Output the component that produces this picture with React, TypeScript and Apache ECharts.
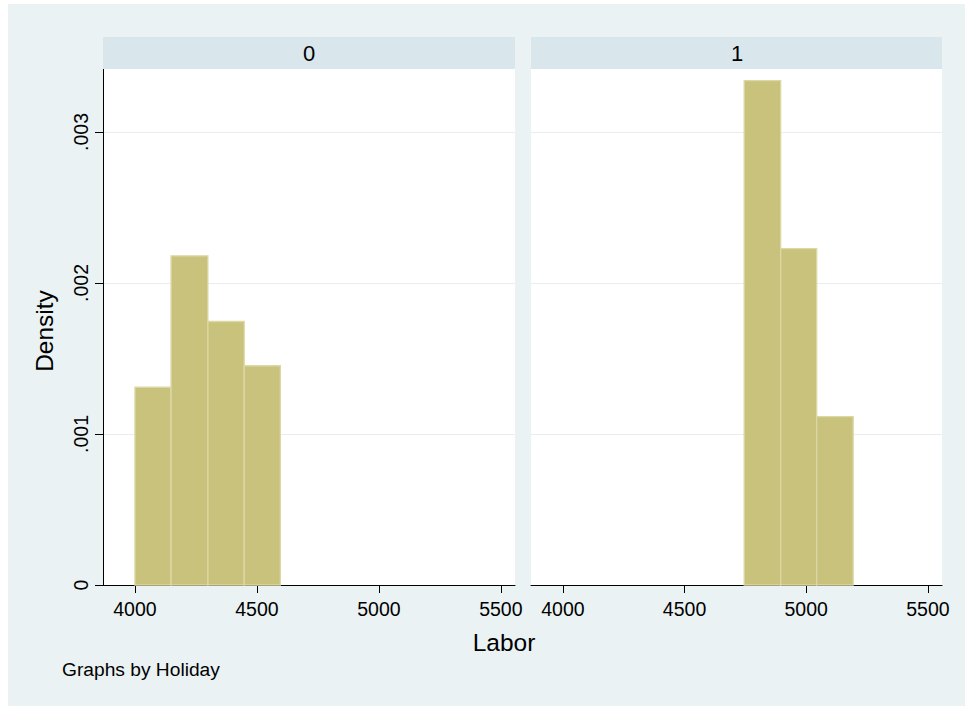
import React, { useEffect, useRef } from "react";
import * as echarts from "echarts";

// Holiday = 0 panel: bin edges and densities
const edges0 = [4000, 4148, 4299, 4448, 4596];
const dens0 = [0.00131, 0.00218, 0.001745, 0.001452];
// Holiday = 1 panel
const edges1 = [4745, 4895, 5043, 5193];
const dens1 = [0.00334, 0.002228, 0.001115];

const panelLabels = ["0", "1"];
const xTicks = [4000, 4500, 5000, 5500];
const yTicks = [0, 0.001, 0.002, 0.003];
const xMin = 3869;
const xMax = 5558;
const yMax = 0.003417;

const FONT = '"Liberation Sans", Arial, Helvetica, sans-serif';
const BAR_FILL = "#c8c27d";
const BAR_EDGE = "#dcd8a4";
const GRID_LINE = "#e6eef1";

function toBins(edges: number[], dens: number[]) {
  return dens.map((d, i) => [edges[i], edges[i + 1], d]);
}

function yFmt(v: number) {
  if (Math.abs(v) < 1e-12) return "0";
  return v.toFixed(3).replace(/^0/, "");
}

export default function App() {
  const ref = useRef<HTMLDivElement>(null);
  useEffect(() => {
    if (!ref.current) return;
    const chart = echarts.init(ref.current, undefined, { renderer: "svg" });

    const renderItem = (params: any, api: any) => {
      const p0 = api.coord([api.value(0), api.value(2)]);
      const p1 = api.coord([api.value(1), 0]);
      return {
        type: "rect",
        shape: { x: p0[0], y: p0[1], width: p1[0] - p0[0], height: p1[1] - p0[1] },
        style: { fill: BAR_FILL, stroke: BAR_EDGE, lineWidth: 1.3 },
      };
    };

    const xAxisBase = (gridIndex: number) => ({
      type: "value",
      gridIndex,
      min: xMin,
      max: xMax,
      splitLine: { show: false },
      axisLine: { show: true, onZero: false, lineStyle: { color: "#000", width: 1 } },
      axisTick: { show: true, inside: false, length: 8, customValues: xTicks, lineStyle: { color: "#000" } },
      axisLabel: {
        show: true,
        customValues: xTicks,
        margin: 14,
        fontSize: 19.5,
        color: "#000",
        fontFamily: FONT,
        formatter: (v: number) => String(v),
      },
    });

    const yAxisBase = (gridIndex: number, showAxis: boolean) => ({
      type: "value",
      gridIndex,
      min: 0,
      max: yMax,
      interval: 0.001,
      splitLine: { show: true, lineStyle: { color: GRID_LINE, width: 1.2 } },
      axisLine: { show: showAxis, lineStyle: { color: "#000", width: 1 } },
      axisTick: { show: showAxis, inside: false, length: 8, customValues: yTicks, lineStyle: { color: "#000" } },
      axisLabel: {
        show: showAxis,
        customValues: yTicks,
        rotate: 90,
        margin: 12,
        fontSize: 19.5,
        color: "#000",
        fontFamily: FONT,
        formatter: yFmt,
      },
    });

    const option: any = {
      animation: false,
      backgroundColor: "#ffffff",
      grid: [
        { left: 103, top: 69, width: 412, height: 516, show: true, backgroundColor: "#ffffff", borderWidth: 0 },
        { left: 531, top: 69, width: 411, height: 516, show: true, backgroundColor: "#ffffff", borderWidth: 0 },
      ],
      xAxis: [xAxisBase(0), xAxisBase(1)],
      yAxis: [yAxisBase(0, true), yAxisBase(1, false)],
      series: [
        {
          type: "custom",
          xAxisIndex: 0,
          yAxisIndex: 0,
          renderItem,
          encode: { x: [0, 1], y: 2 },
          data: toBins(edges0, dens0),
          z: 3,
        },
        {
          type: "custom",
          xAxisIndex: 1,
          yAxisIndex: 1,
          renderItem,
          encode: { x: [0, 1], y: 2 },
          data: toBins(edges1, dens1),
          z: 3,
        },
      ],
      graphic: [
        { type: "rect", z: -100, shape: { x: 8, y: 4, width: 957, height: 702 }, style: { fill: "#eaf2f3" } },
        { type: "rect", z: 1, shape: { x: 103, y: 37, width: 412, height: 32 }, style: { fill: "#d9e6eb" } },
        { type: "rect", z: 1, shape: { x: 531, y: 37, width: 411, height: 32 }, style: { fill: "#d9e6eb" } },
        {
          type: "text", z: 10, x: 309, y: 53,
          style: { text: panelLabels[0], fontSize: 22, fontFamily: FONT, fill: "#000", textAlign: "center", textVerticalAlign: "middle" },
        },
        {
          type: "text", z: 10, x: 737, y: 53,
          style: { text: panelLabels[1], fontSize: 22, fontFamily: FONT, fill: "#000", textAlign: "center", textVerticalAlign: "middle" },
        },
        {
          type: "text", z: 10, x: 44, y: 331, rotation: Math.PI / 2,
          style: { text: "Density", fontSize: 24.5, fontFamily: FONT, fill: "#000", textAlign: "center", textVerticalAlign: "middle" },
        },
        {
          type: "text", z: 10, x: 504, y: 642,
          style: { text: "Labor", fontSize: 24.5, fontFamily: FONT, fill: "#000", textAlign: "center", textVerticalAlign: "middle" },
        },
        {
          type: "text", z: 10, x: 62, y: 669,
          style: { text: "Graphs by Holiday", fontSize: 19.2, fontFamily: FONT, fill: "#000", textAlign: "left", textVerticalAlign: "middle" },
        },
      ],
    };
    chart.setOption(option);
    return () => chart.dispose();
  }, []);

  return (
    <div
      ref={ref}
      style={{ position: "absolute", left: 0, top: 0, width: 965, height: 706 }}
    />
  );
}
